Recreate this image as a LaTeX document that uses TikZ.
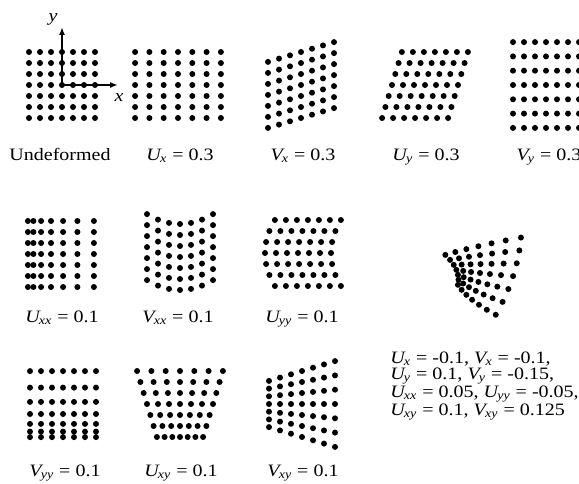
\documentclass[tikz,border=0pt]{standalone}
\usepackage{fontspec}
\setmainfont[FakeStretch=1.15]{Liberation Serif}
\usetikzlibrary{arrows.meta}

% deformed variable label, e.g. U_x
\newcommand{\dvar}[2]{\textit{#1\kern-0.05em\textsubscript{#2}}}
% 7x7 lattice: centre, spacing, new x, new y (in \i, \j)
\newcommand{\dotgrid}[4]{%
  \begin{scope}[shift={#1}, x=#2, y=#2]
    \foreach \i in {-3,...,3}
      \foreach \j in {-3,...,3}
        \fill ({#3},{#4}) circle (1.5pt);
  \end{scope}}

\begin{document}
\begin{tikzpicture}[x=0.5pt, y=-0.5pt, font=\fontsize{8.7}{7.4}\selectfont,
  lbl/.style={anchor=base}]
\useasboundingbox (0,0) rectangle (579,483);

% first row: constant gradients
\dotgrid{(62,85)}{5.5pt}{\i}{\j}
\coordinate (o) at (62,85);
\coordinate (xend) at (118,85);
\coordinate (yend) at (62,27);
\draw[line width=0.8pt, -{Latex[length=1.4mm]}] (o) -- (xend);
\draw[line width=0.8pt, -{Latex[length=1.4mm]}] (o) -- (yend);
\node (xlab) at (119,98) {\textit{x}};
\node (ylab) at (53,19) {\textit{y}};
\node[lbl] (lUndef) at (60,160) {Undeformed};

\dotgrid{(178,85)}{5.5pt}{1.3*\i}{\j}
\node[lbl] (lUx) at (180,160) {\dvar{U}{x} = 0.3};

\dotgrid{(301,85)}{5.5pt}{\i}{\j+0.3*\i}
\node[lbl] (lVx) at (303,160) {\dvar{V}{x} = 0.3};

\dotgrid{(425,85)}{5.5pt}{\i+0.3*\j}{\j}
\node[lbl] (lUy) at (426,160) {\dvar{U}{y} = 0.3};

\dotgrid{(546,85)}{5.5pt}{\i}{1.3*\j}
\node[lbl] (lVy) at (549,160) {\dvar{V}{y} = 0.3};

% second row: second derivatives
\dotgrid{(51,254)}{5.5pt}{\i+0.1*\i*\i}{\j}
\node[lbl] (lUxx) at (62,322) {\dvar{U}{xx} = 0.1};

\dotgrid{(180,257)}{5.5pt}{\i}{\j+0.1*\i*\i}
\node[lbl] (lVxx) at (178,322) {\dvar{V}{xx} = 0.1};

\dotgrid{(298,253)}{5.5pt}{\i+0.1*\j*\j}{\j}
\node[lbl] (lUyy) at (302,322) {\dvar{U}{yy} = 0.1};

% combined case
\dotgrid{(480,273)}{5.25pt}{\i-0.1*\i+0.1*\j+0.05*\i*\i-0.05*\j*\j+0.1*\i*\j}{\j-0.1*\i-0.15*\j+0.125*\i*\j}
\node[anchor=north west, inner sep=0pt, align=left,
  font=\fontsize{8.7}{7.6}\selectfont] (lAll) at (390,352)
  {\dvar{U}{x} = -0.1, \dvar{V}{x} = -0.1,\\
   \dvar{U}{y} = 0.1, \dvar{V}{y} = -0.15,\\
   \dvar{U}{xx} = 0.05, \dvar{U}{yy} = -0.05,\\
   \dvar{U}{xy} = 0.1, \dvar{V}{xy} = 0.125};

% third row
\dotgrid{(63,414)}{5.5pt}{\i}{\j+0.1*\j*\j}
\node[lbl] (lVyy) at (65,476) {\dvar{V}{yy} = 0.1};

\dotgrid{(180,404)}{5.5pt}{\i+0.1*\i*\j}{\j}
\node[lbl] (lUxy) at (181,476) {\dvar{U}{xy} = 0.1};

\dotgrid{(302,404)}{5.5pt}{\i}{\j+0.1*\i*\j}
\node[lbl] (lVxy) at (303,476) {\dvar{V}{xy} = 0.1};

\end{tikzpicture}
\end{document}
